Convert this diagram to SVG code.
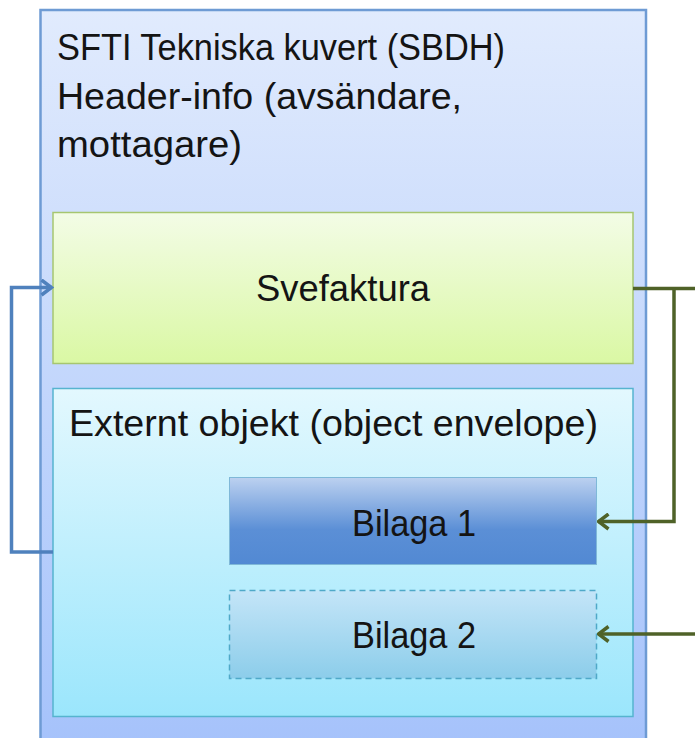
<svg xmlns="http://www.w3.org/2000/svg" width="695" height="738" viewBox="0 0 695 738">
<defs>
<linearGradient id="gOuter" x1="0" y1="0" x2="0" y2="1"><stop offset="0" stop-color="#e1ebfd"/><stop offset="1" stop-color="#a5c2fb"/></linearGradient>
<linearGradient id="gSve" x1="0" y1="0" x2="0" y2="1"><stop offset="0" stop-color="#f3fce6"/><stop offset="1" stop-color="#daf8a4"/></linearGradient>
<linearGradient id="gExt" x1="0" y1="0" x2="0" y2="1"><stop offset="0" stop-color="#e3f8fe"/><stop offset="1" stop-color="#9be6fc"/></linearGradient>
<linearGradient id="gB1" x1="0" y1="0" x2="0" y2="1"><stop offset="0" stop-color="#bcd1f0"/><stop offset="0.6" stop-color="#5b8fd6"/><stop offset="1" stop-color="#5289d3"/></linearGradient>
<linearGradient id="gB2" x1="0" y1="0" x2="0" y2="1"><stop offset="0" stop-color="#c4e5f8"/><stop offset="1" stop-color="#8ccdea"/></linearGradient>
<marker id="arrB" viewBox="0 0 14 18" refX="12.5" refY="9" markerUnits="userSpaceOnUse" markerWidth="14" markerHeight="18" orient="auto"><path d="M2,1.5 L12,9 L2,16.5" fill="none" stroke="#4f81bd" stroke-width="3.5"/></marker>
<marker id="arrG" viewBox="0 0 14 18" refX="12.5" refY="9" markerUnits="userSpaceOnUse" markerWidth="14" markerHeight="18" orient="auto"><path d="M2,1.5 L12,9 L2,16.5" fill="none" stroke="#4f6228" stroke-width="3.5"/></marker>
</defs>
<style>
text{font-family:"Liberation Sans",Arial,sans-serif;font-size:37px;fill:#141414;}
.conB{fill:none;stroke:#4f81bd;stroke-width:3.5;}
.conG{fill:none;stroke:#4f6228;stroke-width:3.5;}
</style>
<g id="outer">
<rect x="40.5" y="10" width="605.5" height="740" fill="url(#gOuter)" stroke="#6e9bd4" stroke-width="2.5"/>
<text x="57" y="60" textLength="448" lengthAdjust="spacingAndGlyphs">SFTI Tekniska kuvert (SBDH)</text>
<text x="57" y="109" textLength="405" lengthAdjust="spacingAndGlyphs">Header-info (avsändare,</text>
<text x="57" y="157" textLength="185" lengthAdjust="spacingAndGlyphs">mottagare)</text>
</g>
<g id="svefaktura">
<rect x="53" y="212.5" width="580" height="151" fill="url(#gSve)" stroke="#a6c670" stroke-width="1.5"/>
<text x="256" y="301" textLength="174" lengthAdjust="spacingAndGlyphs">Svefaktura</text>
</g>
<g id="externt">
<rect x="53" y="388.5" width="580" height="328" fill="url(#gExt)" stroke="#56b4cf" stroke-width="1.5"/>
<text x="69" y="436" textLength="529" lengthAdjust="spacingAndGlyphs">Externt objekt (object envelope)</text>
</g>
<g id="bilaga1">
<rect x="229.5" y="477.5" width="367" height="87" fill="url(#gB1)" stroke="#7fb8d8" stroke-width="1"/>
<text x="352" y="536" textLength="124" lengthAdjust="spacingAndGlyphs">Bilaga 1</text>
</g>
<g id="bilaga2">
<rect x="229.5" y="590.5" width="367" height="88" fill="url(#gB2)" stroke="#4fa9c8" stroke-width="1.5" stroke-dasharray="6,4"/>
<text x="352" y="648" textLength="124" lengthAdjust="spacingAndGlyphs">Bilaga 2</text>
</g>
<g id="connectors">
<path class="conB" d="M53,552 H11.5 V287.5 H52" marker-end="url(#arrB)"/>
<path class="conG" d="M633,288.5 H695"/>
<path class="conG" d="M674,288.5 V521.5 H598" marker-end="url(#arrG)"/>
<path class="conG" d="M695,634 H598" marker-end="url(#arrG)"/>
</g>
</svg>
